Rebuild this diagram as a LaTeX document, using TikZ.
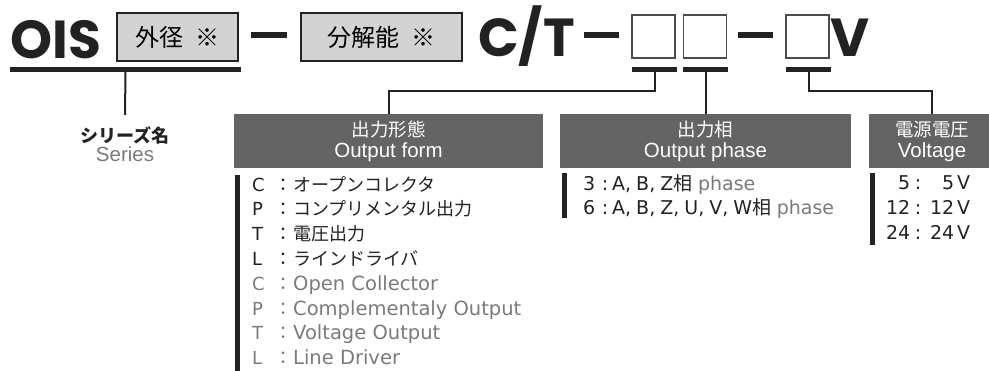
\documentclass[tikz,border=0pt]{standalone}
\usepackage{fontspec}
\setmainfont{Noto Sans CJK JP}
\newfontfamily\titlefont{Poppins}
\newfontfamily\latinfont{Liberation Sans}
\newfontfamily\listfont{DejaVu Sans}
\usetikzlibrary{positioning}
\definecolor{hdrgray}{HTML}{646464}
\definecolor{boxgray}{HTML}{D3D3D3}
\definecolor{inkblack}{HTML}{222222}
\definecolor{textgray}{HTML}{7A7A7A}
% 一覧の行: 記号, コロン, 内容
\newcommand\formitem[2]{\makebox[22pt][l]{\listfont #1}\makebox[18pt]{：}\hspace{1pt}#2}
\newcommand\engtext[1]{{\listfont\fontsize{19.5}{24.8}\selectfont #1}}
\newcommand\phcomma{{\listfont,}\hspace{5pt}}
\newcommand\voltitem[2]{\listfont\makebox[24pt][r]{#1}\makebox[16pt]{:}\makebox[28pt][r]{#2}\hspace{3pt}V}
\tikzset{
  titlestyle/.style={anchor=base west, inner sep=0, text=inkblack,
    font=\titlefont\bfseries\fontsize{53.5}{54}\selectfont},
  fieldbox/.style={draw=inkblack, line width=1.5pt, fill=boxgray, inner sep=0,
    minimum height=48pt, font=\fontsize{24}{24}\selectfont},
  emptybox/.style={draw=black!70, line width=1.3pt, fill=white, inner sep=0,
    minimum width=43pt, minimum height=43pt},
  ulbar/.style={fill=inkblack, inner sep=0, minimum height=5pt},
  dashbar/.style={fill=inkblack, inner sep=0, minimum height=6pt},
  hdr/.style={fill=hdrgray, text=white, inner sep=0, minimum height=54pt,
    align=center, font=\fontsize{18.5}{21}\selectfont},
  conn/.style={draw=inkblack, line width=2pt},
  listtext/.style={anchor=north west, inner sep=0, align=left, text=inkblack,
    font=\fontsize{18}{24.8}\selectfont},
}
\begin{document}
\begin{tikzpicture}[x=1pt, y=-1pt]
    \useasboundingbox (0,0) rectangle (989,371);

    % 型式の並び
    \node[titlestyle] (ois) at (10,59) {OIS};
    \node[fieldbox, minimum width=121pt] (dia) at (177.5,37) {外径\hspace{0.5em}※};
    \node[ulbar, minimum width=231pt] (ulS) at (125.5,69.5) {};
    \node[dashbar, minimum width=36pt] (d1) at (269,35) {};
    \node[fieldbox, minimum width=161pt] (res) at (381.5,37) {分解能\hspace{0.5em}※};
    \node[titlestyle] (ct) at (478,57) {C/T};
    \node[dashbar, minimum width=35pt] (d2) at (601.5,35) {};
    \node[emptybox] (bA) at (653.5,36.5) {};
    \node[emptybox] (bB) at (705,36.5) {};
    \node[dashbar, minimum width=35pt] (d3) at (755.5,35) {};
    \node[emptybox] (bC) at (807.5,36.5) {};
    \node[titlestyle] (volt) at (830,57) {V};

    % 下線
    \node[ulbar, minimum width=45pt] (ulA) at (654.5,69.5) {};
    \node[ulbar, minimum width=45pt] (ulB) at (705.5,69.5) {};
    \node[ulbar, minimum width=45pt] (ulC) at (808.5,69.5) {};

    % 見出し
    \node[hdr, minimum width=309pt] (hForm) at (388.5,141) {出力形態\\{\latinfont\fontsize{20.5}{21}\selectfont Output form}};
    \node[hdr, minimum width=291pt] (hPhase) at (705.5,141) {出力相\\{\latinfont\fontsize{20.5}{21}\selectfont Output phase}};
    \node[hdr, minimum width=126pt] (hVolt) at (932,141) {電源電圧\\{\latinfont\fontsize{20.5}{21}\selectfont Voltage}};

    % シリーズ名
    \node[anchor=north, inner xsep=0, inner ysep=12pt, align=center, text=inkblack,
      font=\fontsize{18}{18.5}\selectfont] (series) at (125,115)
      {\bfseries シリーズ名\\{\latinfont\fontsize{20.5}{18.5}\selectfont\color{textgray}Series}};

    % 接続線
    \draw[conn] (ulS.south) -- (series.north);
    \draw[conn] (ulA.south) -- ++(0,19) -| (hForm.north);
    \draw[conn] (ulB.south) -- (hPhase.north);
    \draw[conn] (ulC.south) -- ++(0,19) -| (hVolt.north);

    % 一覧
    \fill[inkblack] (235,175) rectangle (240,371);
    \node[listtext] (formList) at (252,176) {\formitem{C}{オープンコレクタ}\\\formitem{P}{コンプリメンタル出力}\\
      \formitem{T}{電圧出力}\\\formitem{L}{ラインドライバ}\\
      {\color{textgray}\formitem{C}{\engtext{Open Collector}}}\\{\color{textgray}\formitem{P}{\engtext{Complementaly Output}}}\\
      {\color{textgray}\formitem{T}{\engtext{Voltage Output}}}\\{\color{textgray}\formitem{L}{\engtext{Line Driver}}}};
    \fill[inkblack] (562,173) rectangle (567,218);
    \node[listtext, font=\fontsize{19}{24}\selectfont] (phaseList) at (583,174)
      {\makebox[17pt][l]{\listfont 3}\makebox[10pt]{\listfont :}\hspace{2pt}{\listfont A\phcomma B\phcomma Z}相\hspace{0.3em}{\listfont\color{textgray}phase}\\
       \makebox[17pt][l]{\listfont 6}\makebox[10pt]{\listfont :}\hspace{2pt}{\listfont A\phcomma B\phcomma Z\phcomma U\phcomma V\phcomma W}相\hspace{0.3em}{\listfont\color{textgray}phase}};
    \fill[inkblack] (870,173) rectangle (875,245);
    \node[listtext, font=\fontsize{19}{25}\selectfont] (voltList) at (886,175)
      {\voltitem{5}{5}\\\voltitem{12}{12}\\\voltitem{24}{24}};
\end{tikzpicture}
\end{document}
